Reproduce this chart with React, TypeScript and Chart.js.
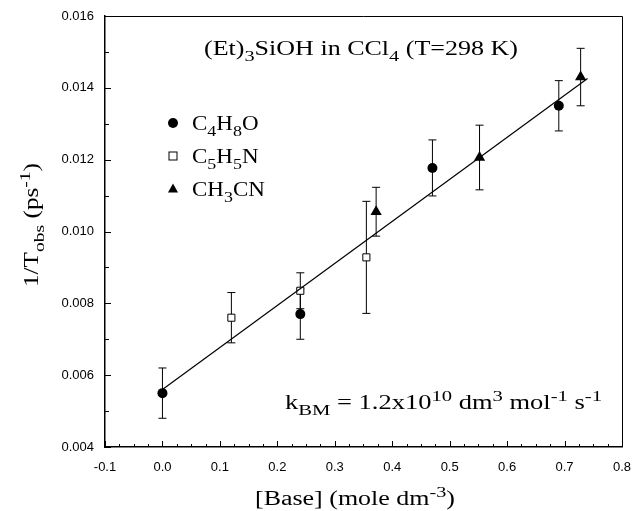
import React, { useEffect, useRef } from "react";
import { Chart, registerables } from "chart.js";

Chart.register(...registerables);

// ---- data ----
const thfX = [0.0, 0.24, 0.47, 0.69];
const thfY = [0.0055, 0.0077, 0.01177, 0.0135];
const thfErr = [0.0007, 0.0007, 0.00078, 0.0007];

const pyrX = [0.12, 0.24, 0.355];
const pyrY = [0.0076, 0.00835, 0.00928];
const pyrErr = [0.0007, 0.0005, 0.00156];

const acnX = [0.372, 0.552, 0.728];
const acnY = [0.01055, 0.01206, 0.0143];
const acnErr = [0.00068, 0.0009, 0.0008];

const fitX = [0.0, 0.74];
const fitY = [0.0056, 0.01426];

const xTickStep = 0.1;
const yTickStep = 0.002;
const xMinorDiv = 4;
const yMinorDiv = 2;

type Seg = [string, "n" | "sub" | "sup"];

const SERIF = '"Liberation Serif", "Times New Roman", serif';
const SANS = '"Liberation Sans", Arial, sans-serif';

function drawRich(
  ctx: CanvasRenderingContext2D,
  segs: Seg[],
  x: number,
  y: number,
  size: number,
  opts: { width?: number; sx?: number; align?: "left" | "center"; rot?: number }
) {
  const fontN = `${size}px ${SERIF}`;
  const fontS = `${size * 0.78}px ${SERIF}`;
  let W = 0;
  const widths: number[] = [];
  for (const [t, k] of segs) {
    ctx.font = k === "n" ? fontN : fontS;
    const w = ctx.measureText(t).width;
    widths.push(w);
    W += w;
  }
  const sx = opts.width ? opts.width / W : opts.sx ?? 1;
  ctx.save();
  ctx.translate(x, y);
  if (opts.rot) ctx.rotate(opts.rot);
  ctx.scale(sx, 1);
  let cx = opts.align === "center" ? -W / 2 : 0;
  ctx.fillStyle = "#000";
  ctx.textBaseline = "alphabetic";
  ctx.textAlign = "left";
  segs.forEach(([t, k], i) => {
    ctx.font = k === "n" ? fontN : fontS;
    const dy = k === "sub" ? size * 0.32 : k === "sup" ? -size * 0.42 : 0;
    ctx.fillText(t, cx, dy);
    cx += widths[i];
  });
  ctx.restore();
}

function drawMarker(ctx: CanvasRenderingContext2D, kind: string, x: number, y: number) {
  ctx.save();
  ctx.lineWidth = 1;
  ctx.strokeStyle = "#000";
  if (kind === "circle") {
    ctx.fillStyle = "#000";
    ctx.beginPath();
    ctx.arc(x, y, 5, 0, Math.PI * 2);
    ctx.fill();
  } else if (kind === "rect") {
    ctx.fillStyle = "#fff";
    ctx.fillRect(x - 4, y - 4, 8, 8);
    ctx.strokeRect(x - 4, y - 4, 8, 8);
  } else {
    ctx.fillStyle = "#000";
    ctx.beginPath();
    ctx.moveTo(x, y - 5.5);
    ctx.lineTo(x + 5, y + 3.5);
    ctx.lineTo(x - 5, y + 3.5);
    ctx.closePath();
    ctx.fill();
  }
  ctx.restore();
}

const errSets = [
  { x: thfX, y: thfY, e: thfErr },
  { x: pyrX, y: pyrY, e: pyrErr },
  { x: acnX, y: acnY, e: acnErr },
];

const decorPlugin = {
  id: "decor",
  beforeDatasetsDraw(chart: any) {
    const { ctx, scales } = chart;
    const xs = scales.x;
    const ys = scales.y;
    ctx.save();
    ctx.strokeStyle = "#000";
    ctx.lineWidth = 1;
    for (const s of errSets) {
      s.x.forEach((xv: number, i: number) => {
        const px = xs.getPixelForValue(xv);
        const top = ys.getPixelForValue(s.y[i] + s.e[i]);
        const bot = ys.getPixelForValue(s.y[i] - s.e[i]);
        ctx.beginPath();
        ctx.moveTo(px, top);
        ctx.lineTo(px, bot);
        ctx.moveTo(px - 4, top);
        ctx.lineTo(px + 4, top);
        ctx.moveTo(px - 4, bot);
        ctx.lineTo(px + 4, bot);
        ctx.stroke();
      });
    }
    ctx.restore();
  },
  afterDraw(chart: any) {
    const { ctx, chartArea, scales } = chart;
    const xs = scales.x;
    const ys = scales.y;
    const { left, right, top, bottom } = chartArea;
    ctx.save();
    // frame
    ctx.strokeStyle = "#000";
    ctx.lineWidth = 1;
    ctx.beginPath();
    ctx.moveTo(left, top + 0.5);
    ctx.lineTo(right + 0.5, top + 0.5);
    ctx.lineTo(right + 0.5, bottom);
    ctx.stroke();

    // ticks (inward)
    const xt = xs.ticks.map((t: any) => t.value);
    const yt = ys.ticks.map((t: any) => t.value);
    ctx.beginPath();
    xt.forEach((v: number, i: number) => {
      const p = Math.round(xs.getPixelForValue(v)) + 0.5;
      ctx.moveTo(p, bottom);
      ctx.lineTo(p, bottom - 6);
      if (i < xt.length - 1) {
        for (let k = 1; k < xMinorDiv; k++) {
          const mv = v + ((xt[i + 1] - v) * k) / xMinorDiv;
          const mp = Math.round(xs.getPixelForValue(mv)) + 0.5;
          ctx.moveTo(mp, bottom);
          ctx.lineTo(mp, bottom - 3);
        }
      }
    });
    yt.forEach((v: number, i: number) => {
      const p = Math.round(ys.getPixelForValue(v)) + 0.5;
      ctx.moveTo(left, p);
      ctx.lineTo(left + 6, p);
      if (i < yt.length - 1) {
        for (let k = 1; k < yMinorDiv; k++) {
          const mv = v + ((yt[i + 1] - v) * k) / yMinorDiv;
          const mp = Math.round(ys.getPixelForValue(mv)) + 0.5;
          ctx.moveTo(left, mp);
          ctx.lineTo(left + 4, mp);
        }
      }
    });
    ctx.stroke();

    // tick labels
    ctx.fillStyle = "#000";
    ctx.font = `13px ${SANS}`;
    ctx.textAlign = "right";
    ctx.textBaseline = "middle";
    yt.forEach((v: number) => {
      ctx.fillText(v.toFixed(3), left - 11, ys.getPixelForValue(v));
    });
    ctx.textAlign = "center";
    xt.forEach((v: number) => {
      ctx.fillText(v.toFixed(1), xs.getPixelForValue(v), bottom + 20);
    });
    ctx.restore();

    // annotations
    drawRich(
      ctx,
      [["(Et)", "n"], ["3", "sub"], ["SiOH in CCl", "n"], ["4", "sub"], [" (T=298 K)", "n"]],
      204, 55, 20, { width: 314 }
    );
    const legend: [string, Seg[]][] = [
      ["circle", [["C", "n"], ["4", "sub"], ["H", "n"], ["8", "sub"], ["O", "n"]]],
      ["rect", [["C", "n"], ["5", "sub"], ["H", "n"], ["5", "sub"], ["N", "n"]]],
      ["triangle", [["CH", "n"], ["3", "sub"], ["CN", "n"]]],
    ];
    legend.forEach(([m, segs], i) => {
      drawMarker(ctx, m, 173, 123 + i * 33);
      drawRich(ctx, segs, 192, 130 + i * 33, 20, { sx: 1.15 });
    });
    drawRich(
      ctx,
      [["k", "n"], ["BM", "sub"], [" = 1.2x10", "n"], ["10", "sup"], [" dm", "n"], ["3", "sup"], [" mol", "n"], ["-1", "sup"], [" s", "n"], ["-1", "sup"]],
      285, 409, 20, { width: 317 }
    );
    drawRich(
      ctx,
      [["[Base] (mole dm", "n"], ["-3", "sup"], [")", "n"]],
      355, 505, 20, { width: 200, align: "center" }
    );
    drawRich(
      ctx,
      [["1/T", "n"], ["obs", "sub"], [" (ps", "n"], ["-1", "sup"], [")", "n"]],
      38, 225, 20, { width: 124, align: "center", rot: -Math.PI / 2 }
    );
  },
};

export default function App() {
  const ref = useRef<HTMLCanvasElement | null>(null);
  useEffect(() => {
    if (!ref.current) return;
    const toPts = (xa: number[], ya: number[]) => xa.map((x, i) => ({ x, y: ya[i] }));
    const chart = new Chart(ref.current, {
      type: "scatter",
      data: {
        datasets: [
          {
            label: "fit",
            data: toPts(fitX, fitY),
            showLine: true,
            borderColor: "#000",
            borderWidth: 1.2,
            pointRadius: 0,
          },
          {
            label: "C4H8O",
            data: toPts(thfX, thfY),
            pointStyle: "circle",
            pointRadius: 5,
            backgroundColor: "#000",
            borderColor: "#000",
            borderWidth: 0,
          },
          {
            label: "C5H5N",
            data: toPts(pyrX, pyrY),
            pointStyle: "rect",
            pointRadius: 5,
            backgroundColor: "#fff",
            borderColor: "#000",
            borderWidth: 1,
          },
          {
            label: "CH3CN",
            data: toPts(acnX, acnY),
            pointStyle: "triangle",
            pointRadius: 6.5,
            backgroundColor: "#000",
            borderColor: "#000",
            borderWidth: 0,
          },
        ],
      },
      options: {
        responsive: false,
        animation: false,
        devicePixelRatio: 1,
        layout: { padding: { left: 0, right: 11, top: 16, bottom: 0 } },
        plugins: { legend: { display: false }, tooltip: { enabled: false }, title: { display: false } },
        scales: {
          x: {
            type: "linear",
            min: -0.1,
            max: 0.8,
            ticks: { display: false, stepSize: xTickStep },
            grid: { display: false, drawTicks: false },
            border: { display: true, color: "#000", width: 1.5 },
            afterFit: (s: any) => {
              s.height = 64;
            },
          },
          y: {
            type: "linear",
            min: 0.004,
            max: 0.016,
            ticks: { display: false, stepSize: yTickStep },
            grid: { display: false, drawTicks: false },
            border: { display: true, color: "#000", width: 1.5 },
            afterFit: (s: any) => {
              s.width = 105;
            },
          },
        },
      },
      plugins: [decorPlugin],
    } as any);
    return () => chart.destroy();
  }, []);
  return (
    <div style={{ position: "absolute", left: 0, top: 0, width: 633, height: 511, background: "#fff" }}>
      <canvas ref={ref} width={633} height={511} style={{ display: "block" }} />
    </div>
  );
}
